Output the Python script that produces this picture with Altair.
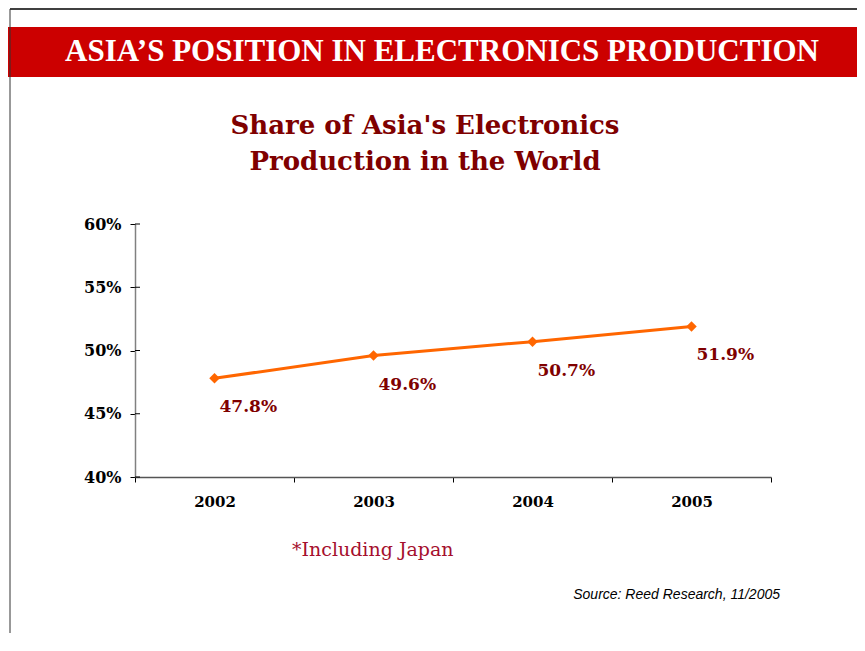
import altair as alt
import pandas as pd

# ---- data ----
years = ["2002", "2003", "2004", "2005"]
shares = [47.8, 49.6, 50.7, 51.9]
y_ticks = [40, 45, 50, 55, 60]
header_text = "ASIA\u2019S POSITION IN ELECTRONICS PRODUCTION"
title_lines = ["Share of Asia's Electronics", "Production in the World"]
note_text = "*Including Japan"
source_text = "Source: Reed Research, 11/2005"

df = pd.DataFrame({"year": years, "share": shares})
tick_df = pd.DataFrame({"share": y_ticks})

# ---- layout ----
W, H = 636, 253
PL, PT, PR = 127, 216, 86
PB = 625 - PT - H
RIGHT = W + PR

SERIF = "DejaVu Serif"
xscale = alt.Scale(type="band", paddingInner=0, paddingOuter=0)
yscale = alt.Scale(domain=[40, 60], nice=False, zero=False)

x_enc = alt.X(
    "year:O", scale=xscale,
    axis=alt.Axis(title=None, tickBand="extent", labelAngle=0, labelFont=SERIF,
                  labelFontWeight="bold", labelFontSize=15, labelColor="#000000",
                  labelPadding=12, tickSize=5, tickColor="#000000", tickWidth=1,
                  domainColor="#555555", domainWidth=1.5, grid=False),
)
y_enc = alt.Y(
    "share:Q", scale=yscale,
    axis=alt.Axis(title=None, values=y_ticks, labelExpr="datum.value + '%'",
                  labelFont=SERIF, labelFontWeight="bold", labelFontSize=16,
                  labelColor="#000000", labelPadding=9, tickSize=5,
                  tickColor="#000000", tickWidth=1, domainColor="#808080",
                  domainWidth=1.5, grid=False),
)

base = alt.Chart(df)
line = base.mark_line(color="#ff6600", strokeWidth=3).encode(x=x_enc, y=y_enc)
pts = base.mark_point(shape="diamond", filled=True, size=110, color="#ff6600",
                      opacity=1).encode(x="year:O", y="share:Q")
labels = base.transform_calculate(
    lbl="format(datum.share, '.1f') + '%'"
).mark_text(align="left", baseline="middle", dx=5, dy=29, font=SERIF,
            fontWeight="bold", fontSize=17, color="#7f0000").encode(
    x="year:O", y="share:Q", text="lbl:N")

# inner half of the y-axis ticks (the reference ticks cross the axis)
inner_ticks = alt.Chart(tick_df).mark_rule(color="#000000", strokeWidth=1).encode(
    y="share:Q", x=alt.value(0), x2=alt.value(5))


def deco_text(txt, x, y, **kw):
    return alt.Chart(pd.DataFrame({"t": [txt]})).mark_text(**kw).encode(
        text="t:N", x=alt.value(x), y=alt.value(y))


one = pd.DataFrame({"k": [0]})
band = alt.Chart(one).mark_rect(color="#cc0000").encode(
    x=alt.value(-128), x2=alt.value(RIGHT), y=alt.value(-197), y2=alt.value(-147))
top_rule = alt.Chart(one).mark_rule(color="#000000", strokeWidth=1.5).encode(
    x=alt.value(-125), x2=alt.value(RIGHT), y=alt.value(-215))
left_rule = alt.Chart(one).mark_rule(color="#333333", strokeWidth=1).encode(
    x=alt.value(-125), y=alt.value(-215), y2=alt.value(420))

header = deco_text(header_text, 307, -172, align="center", baseline="middle",
                   font="Liberation Serif", fontWeight="bold", fontSize=31,
                   color="#ffffff")
title1 = deco_text(title_lines[0], 290, -98, align="center", baseline="middle",
                   font=SERIF, fontWeight="bold", fontSize=26, color="#7f0000")
title2 = deco_text(title_lines[1], 290, -62, align="center", baseline="middle",
                   font=SERIF, fontWeight="bold", fontSize=26, color="#7f0000")
note = deco_text(note_text, 157, 326, align="left", baseline="middle",
                 font=SERIF, fontSize=19, color="#a50f2d")
source = deco_text(source_text, 645, 371, align="right", baseline="middle",
                   font="Liberation Sans", fontStyle="italic", fontSize=14,
                   color="#000000")

chart = alt.layer(
    band, top_rule, left_rule, header, title1, title2, note, source,
    line, inner_ticks, pts, labels,
).properties(
    width=W, height=H,
    autosize=alt.AutoSizeParams(type="none"),
    padding={"left": PL, "top": PT, "right": PR, "bottom": PB},
    background="white",
).configure_view(strokeWidth=0)

chart.save("out.html", embed_options={"renderer": "svg", "actions": False})
